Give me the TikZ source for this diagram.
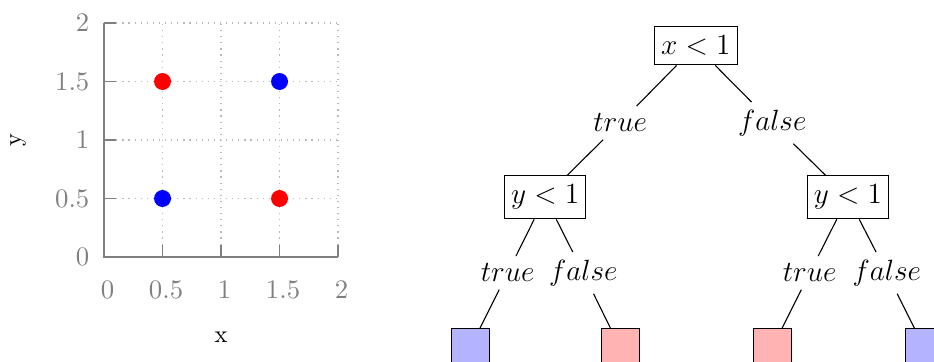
\documentclass[tikz,border=0pt]{standalone}
\definecolor{leafblue}{HTML}{B3B3FF}
\definecolor{leafred}{HTML}{FFB3B3}
\tikzset{
  testbox/.style={draw, inner xsep=2.7pt, inner ysep=3.8pt, font=\fontsize{11.5}{14}\selectfont},
  answer/.style={inner sep=3pt, font=\fontsize{11.5}{14}\selectfont},
  leaf/.style={draw, minimum size=0.55cm, inner sep=0pt},
  branch/.style={line width=0.45pt},
  axisline/.style={draw=gray, line width=0.6pt},
  gridline/.style={gray!55, dotted, line width=0.5pt},
  ticklabel/.style={text=gray, font=\fontsize{10.5}{12}\selectfont, inner sep=2pt}}

\begin{document}
\begin{tikzpicture}
    \useasboundingbox (0,0) rectangle (13.45,-5.2);
    \clip (0,0) rectangle (13.45,-5.2);
    \begin{scope}[shift={(1.498,-3.701)}, x=1.685cm, y=1.685cm]
      \foreach \v in {0.5,1,1.5,2} {
        \draw[gridline] (\v,0) -- (\v,2);
        \draw[gridline] (0,\v) -- (2,\v);
        \draw[axisline] (\v,0) -- (\v,0.1);
        \draw[axisline] (0,\v) -- (0.1,\v);
      }
      \draw[axisline] (0,2) -- (0,0) -- (2,0);
      \foreach \v/\n in {0/0,0.5/1,1/2,1.5/3,2/4} {
        \node[ticklabel] (xtick\n) at (\v+0.03,-0.28) {$\v$};
        \node[ticklabel, anchor=east] (ytick\n) at (-0.08,\v) {$\v$};
      }
      \node (xlabel) at (1,-0.684) {x};
      \node[rotate=90] (ylabel) at (-0.735,1) {y};
      \fill[red] (0.5,1.5) circle[radius=1.22mm];
      \fill[blue] (1.5,1.5) circle[radius=1.22mm];
      \fill[blue] (0.5,0.5) circle[radius=1.22mm];
      \fill[red] (1.5,0.5) circle[radius=1.22mm];
    \end{scope}

    \node[testbox] (root) at (10.02,-0.66) {$x<1$};
    \node[answer] (t1) at (8.93,-1.77) {$true$};
    \node[answer] (f1) at (11.12,-1.77) {$false$};
    \node[testbox] (yl) at (7.85,-2.84) {$y<1$};
    \node[testbox] (yr) at (12.21,-2.84) {$y<1$};
    \node[answer] (t2) at (7.31,-3.93) {$true$};
    \node[answer] (f2) at (8.40,-3.93) {$false$};
    \node[answer] (t3) at (11.66,-3.93) {$true$};
    \node[answer] (f3) at (12.77,-3.93) {$false$};
    \node[leaf, fill=leafblue] (l1) at (6.77,-5.01) {};
    \node[leaf, fill=leafred] (l2) at (8.93,-5.01) {};
    \node[leaf, fill=leafred] (l3) at (11.12,-5.01) {};
    \node[leaf, fill=leafblue] (l4) at (13.31,-5.01) {};

    \draw[branch] (root) -- (t1);
    \draw[branch] (root) -- (f1);
    \draw[branch] (t1) -- (yl);
    \draw[branch] (f1) -- (yr);
    \draw[branch] (yl) -- (t2);
    \draw[branch] (yl) -- (f2);
    \draw[branch] (yr) -- (t3);
    \draw[branch] (yr) -- (f3);
    \draw[branch] (t2) -- (l1);
    \draw[branch] (f2) -- (l2);
    \draw[branch] (t3) -- (l3);
    \draw[branch] (f3) -- (l4);
  \end{tikzpicture}
\end{document}
